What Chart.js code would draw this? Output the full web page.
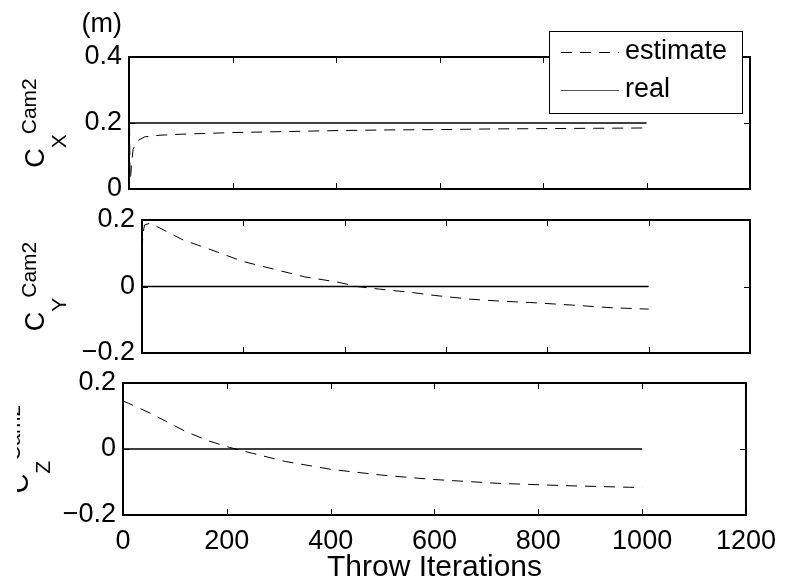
<!DOCTYPE html>
<html>
<head>
<meta charset="utf-8">
<script src="https://cdn.jsdelivr.net/npm/chart.js@4/dist/chart.umd.min.js"></script>
<style>
  html, body { margin: 0; padding: 0; background: #fff; }
  #wrap { position: relative; width: 786px; height: 588px; overflow: hidden; }
  canvas { position: absolute; left: 0; top: 0; }
</style>
</head>
<body>
<div id="wrap">
  <canvas id="cx" width="786" height="588"></canvas>
  <canvas id="cy" width="786" height="588"></canvas>
  <canvas id="cz" width="786" height="588"></canvas>
</div>
<script>
// x tick labels (Throw Iterations)
const xTicks = [0, 200, 400, 600, 800, 1000, 1200]
const realIter = [0, 1000]

// C_X^Cam2
const xIter = [0, 1, 2, 3, 5, 8, 15, 30, 60, 100, 200, 300, 400, 500, 600, 700, 800, 900, 1000]
const xEstimate = [0.31, 0.2, 0.04, 0.03, 0.08, 0.12, 0.145, 0.158, 0.163, 0.166, 0.171, 0.174, 0.177, 0.179, 0.18, 0.182, 0.183, 0.184, 0.185]
const xReal = [0.2, 0.2]

// C_Y^Cam2
const yIter = [0, 2, 5, 15, 30, 81, 128, 200, 321, 387, 424, 469, 533, 578, 647, 706, 765, 850, 929, 1000]
const yEstimate = [0.11, 0.16, 0.185, 0.19, 0.18, 0.14, 0.115, 0.075, 0.029, 0.013, 0.0, -0.008, -0.018, -0.027, -0.038, -0.044, -0.048, -0.056, -0.064, -0.068]
const yReal = [0, 0]

// C_Z^Cam2
const zIter = [0, 10, 52, 122, 166, 205, 249, 313, 402, 498, 594, 722, 850, 976, 1000]
const zEstimate = [0.145, 0.139, 0.109, 0.052, 0.024, 0.005, -0.013, -0.038, -0.062, -0.079, -0.092, -0.104, -0.111, -0.116, -0.117]
const zReal = [0, 0]

const FONT = '"Liberation Sans", Arial, Helvetica, sans-serif'
Chart.defaults.color = '#000'
Chart.defaults.font.family = FONT

const pts = (xs, ys) => xs.map((x, i) => ({ x: x, y: ys[i] }))
const fmt = v => {
  const n = Number(v.toFixed(2))
  return n < 0 ? '\u2212' + Math.abs(n) : String(n)
}

function drawTitle(ctx, t, cy) {
  ctx.save()
  if (t.clipX) {
    ctx.beginPath()
    ctx.rect(t.clipX, 0, 786, 588)
    ctx.clip()
  }
  ctx.translate(t.cx, cy)
  ctx.rotate(-Math.PI / 2)
  ctx.fillStyle = '#000'
  ctx.textBaseline = 'alphabetic'
  const big = '27px ' + FONT, small = '21px ' + FONT
  ctx.font = big
  const w1 = ctx.measureText('C').width
  ctx.font = small
  const w2 = ctx.measureText(t.sub).width
  const w3 = ctx.measureText('Cam2').width
  const x0 = -(w1 + w2 + w3) / 2
  ctx.font = big
  ctx.fillText('C', x0, 0)
  ctx.font = small
  ctx.fillText(t.sub, x0 + w1, 22)
  ctx.fillText('Cam2', x0 + w1 + w2, -8)
  ctx.restore()
}

const framePlugin = {
  id: 'frame',
  afterDraw(chart, args, opts) {
    const { ctx, chartArea: a, scales: { x, y } } = chart
    ctx.save()
    ctx.strokeStyle = '#000'
    ctx.lineWidth = 1
    ctx.beginPath()
    x.ticks.forEach(t => {
      const px = Math.round(x.getPixelForValue(t.value)) + 0.5
      ctx.moveTo(px, a.bottom); ctx.lineTo(px, a.bottom - 6)
      ctx.moveTo(px, a.top); ctx.lineTo(px, a.top + 6)
    })
    y.ticks.forEach(t => {
      const py = Math.round(y.getPixelForValue(t.value)) + 0.5
      ctx.moveTo(a.left, py); ctx.lineTo(a.left + 6, py)
      ctx.moveTo(a.right, py); ctx.lineTo(a.right - 6, py)
    })
    ctx.stroke()
    ctx.lineWidth = 2
    ctx.strokeRect(a.left, a.top, a.right - a.left, a.bottom - a.top)

    drawTitle(ctx, opts.title, (a.top + a.bottom) / 2)

    if (opts.unit) {
      ctx.font = '27px ' + FONT
      ctx.fillStyle = '#000'
      ctx.textAlign = 'right'
      ctx.textBaseline = 'middle'
      ctx.fillText(opts.unit, 122, 25)
    }

    if (opts.legend) {
      const L = opts.legend
      ctx.fillStyle = '#fff'
      ctx.fillRect(L.x, L.y, L.w, L.h)
      ctx.lineWidth = 1
      ctx.strokeStyle = '#000'
      ctx.strokeRect(L.x + 0.5, L.y + 0.5, L.w, L.h)
      ctx.font = '27px ' + FONT
      ctx.textAlign = 'left'
      ctx.textBaseline = 'middle'
      chart.data.datasets.forEach((ds, i) => {
        const ly = L.rows[i]
        ctx.beginPath()
        ctx.setLineDash(ds.borderDash || [])
        ctx.strokeStyle = ds.borderDash ? '#000' : '#555'
        ctx.lineWidth = 1
        ctx.moveTo(L.x + 12, ly + 0.5)
        ctx.lineTo(L.x + 70, ly + 0.5)
        ctx.stroke()
        ctx.setLineDash([])
        ctx.fillStyle = '#000'
        ctx.fillText(ds.label, L.x + 76, ly)
      })
    }
    ctx.restore()
  }
}

function makePanel(id, cfg) {
  new Chart(document.getElementById(id), {
    type: 'line',
    data: {
      datasets: [
        {
          label: 'estimate',
          data: pts(cfg.iter, cfg.estimate),
          borderColor: '#000',
          borderWidth: 1,
          borderDash: [11, 8],
          pointRadius: 0,
          tension: 0,
        },
        {
          label: 'real',
          data: pts(realIter, cfg.real),
          borderColor: '#000',
          borderWidth: 1.3,
          pointRadius: 0,
          tension: 0,
        },
      ]
    },
    options: {
      responsive: false,
      animation: false,
      events: [],
      layout: { padding: { left: 0, top: cfg.top, right: 36, bottom: cfg.padBottom } },
      plugins: {
        legend: { display: false },
        tooltip: { enabled: false },
        frame: { title: cfg.title, unit: cfg.unit, legend: cfg.legend },
      },
      scales: {
        x: {
          type: 'linear',
          min: 0,
          max: 1200,
          afterBuildTicks: s => { s.ticks = xTicks.map(v => ({ value: v })) },
          ticks: {
            display: cfg.showX,
            padding: 10,
            font: { size: 27 },
            callback: v => String(v),
          },
          grid: { display: false, drawTicks: false },
          border: { display: false },
          title: {
            display: cfg.showX,
            text: 'Throw Iterations',
            font: { size: 30 },
            padding: { top: 0, bottom: 2 },
          },
          afterFit: s => { s.height = cfg.xHeight },
        },
        y: {
          min: cfg.ymin,
          max: cfg.ymax,
          ticks: {
            stepSize: 0.2,
            padding: 7,
            font: { size: 27 },
            callback: v => fmt(v),
          },
          grid: { display: false, drawTicks: false },
          border: { display: false },
          afterFit: s => { s.width = cfg.left },
        },
      },
    },
    plugins: [framePlugin],
  })
}

makePanel('cx', {
  iter: xIter, estimate: xEstimate, real: xReal,
  top: 57, padBottom: 588 - 189, left: 129, xHeight: 0, showX: false,
  ymin: 0, ymax: 0.4,
  title: { cx: 44, sub: 'X' },
  unit: '(m)',
  legend: { x: 549, y: 31, w: 193, h: 82, rows: [52, 90] },
})

makePanel('cy', {
  iter: yIter, estimate: yEstimate, real: yReal,
  top: 220, padBottom: 588 - 353, left: 142, xHeight: 0, showX: false,
  ymin: -0.2, ymax: 0.2,
  title: { cx: 44, sub: 'Y' },
})

makePanel('cz', {
  iter: zIter, estimate: zEstimate, real: zReal,
  top: 383, padBottom: 0, left: 123, xHeight: 73, showX: true,
  ymin: -0.2, ymax: 0.2,
  title: { cx: 28, sub: 'Z', clipX: 17 },
})
</script>
</body>
</html>
